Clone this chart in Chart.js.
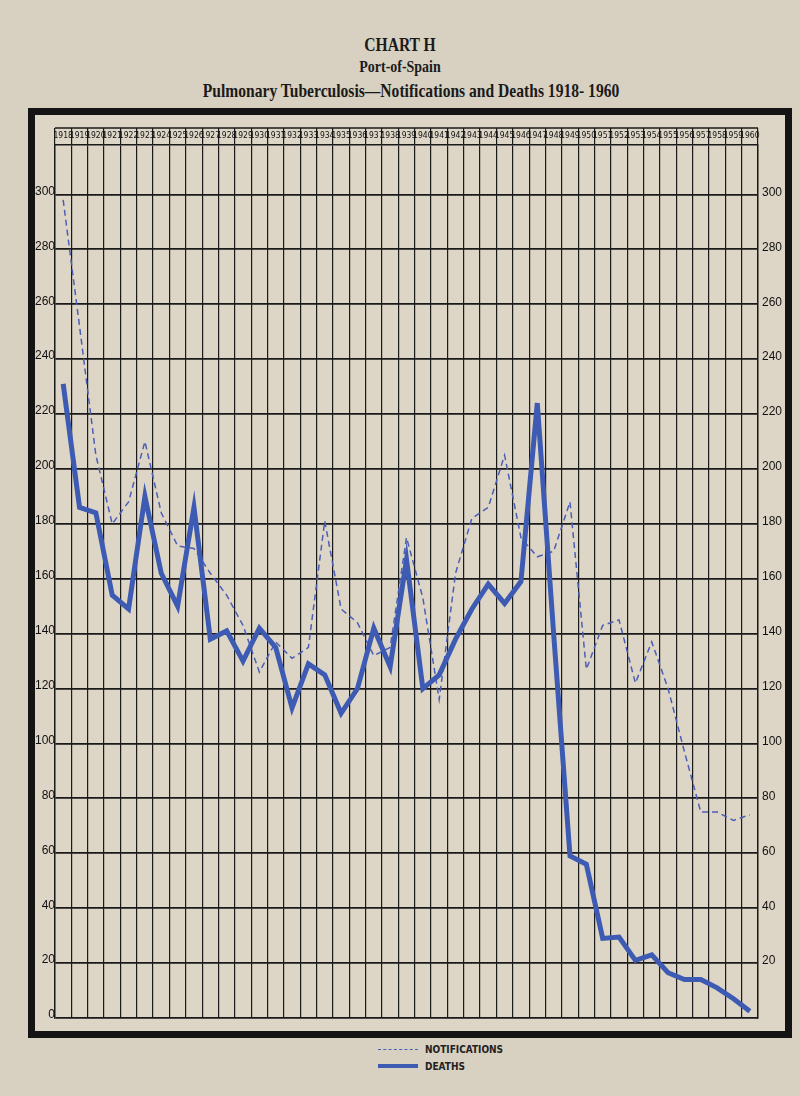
<!DOCTYPE html>
<html>
<head>
<meta charset="utf-8">
<title>Chart H - Port-of-Spain</title>
<script src="https://cdn.jsdelivr.net/npm/chart.js@4.4.1/dist/chart.umd.min.js"></script>
<style>
  html, body { margin: 0; padding: 0; }
  body {
    width: 800px; height: 1096px; position: relative; overflow: hidden;
    background: #d8d0c1; font-family: "Liberation Serif", serif;
  }
  .title {
    position: absolute; left: 0; width: 800px; text-align: center;
    font-weight: bold; color: #1a1a1a; transform: scaleX(0.82);
  }
  #frame {
    position: absolute; left: 28px; top: 108px; width: 764px; height: 930px;
    box-sizing: border-box; border: 7px solid #141414; background: #ddd5c6;
  }
  #chart { display: block; }
  .legend-row {
    position: absolute; left: 378px; height: 14px; display: flex; align-items: center;
    font-family: "Liberation Sans Narrow", "DejaVu Sans Condensed", sans-serif;
    font-weight: bold; font-size: 10px; color: #222;
  }
  .sample { width: 40px; margin-right: 7px; }
</style>
</head>
<body>

<div class="title" style="top:34px; font-size:19px;">CHART H</div>
<div class="title" style="top:57px; font-size:17px;">Port-of-Spain</div>
<div class="title" style="top:80px; left:11px; font-size:19px;">Pulmonary Tuberculosis—Notifications and Deaths 1918- 1960</div>

<div id="frame">
  <canvas id="chart" width="750" height="916"></canvas>
</div>

<div id="legend"></div>

<script>
// years along the top of the sheet
const years = ["1918", "1919", "1920", "1921", "1922", "1923", "1924", "1925", "1926", "1927",
               "1928", "1929", "1930", "1931", "1932", "1933", "1934", "1935", "1936", "1937",
               "1938", "1939", "1940", "1941", "1942", "1943", "1944", "1945", "1946", "1947",
               "1948", "1949", "1950", "1951", "1952", "1953", "1954", "1955", "1956", "1957",
               "1958", "1959", "1960"];

// values (per year)
const notifications = [298, 252, 205, 180, 188, 210, 184, 172, 171, 162,
                       154, 143, 126, 137, 131, 135, 181, 149, 144, 132,
                       135, 175, 153, 116, 162, 182, 186, 205, 175, 168,
                       170, 188, 127, 143, 145, 122, 137, 120, 97, 75,
                       75, 72, 74];

const deaths = [231, 186, 184, 154, 149, 190, 162, 150, 186, 138,
                141, 130, 142, 135, 113, 129, 125, 111, 120, 142,
                128, 167, 120, 125, 138, 149, 158, 151, 159, 224,
                140, 59, 56, 29, 29.5, 21, 23, 16.5, 14, 14,
                11, 7, 2.5];

const yTicks = [0, 20, 40, 60, 80, 100, 120, 140, 160, 180, 200, 220, 240, 260, 280, 300];
const seriesNames = ["NOTIFICATIONS", "DEATHS"];

const notifColor = "#4b5fb6";
const deathsColor = "#3d5bb2";
const gridColor = "#1a1a1a";
const HEADER_H = 17;

// top line of the year header box
const headerBox = {
    id: "headerBox",
    afterDraw(chart) {
        const { ctx, chartArea } = chart;
        const y = chartArea.top - HEADER_H;
        ctx.save();
        ctx.strokeStyle = gridColor;
        ctx.lineWidth = 1.4;
        ctx.beginPath();
        ctx.moveTo(chartArea.left, y);
        ctx.lineTo(chartArea.right, y);
        ctx.stroke();
        ctx.restore();
    }
};

function useFixedTicks(scale) {
    scale.ticks = yTicks.map(v => ({ value: v }));
}

const yFont = { family: "'Liberation Sans', sans-serif", size: 12 };

new Chart(document.getElementById("chart"), {
    type: "line",
    data: {
        labels: years,
        datasets: [
            {
                label: seriesNames[1],
                data: deaths,
                borderColor: deathsColor,
                borderWidth: 5,
                pointRadius: 0,
                tension: 0,
                yAxisID: "y"
            },
            {
                label: seriesNames[0],
                data: notifications,
                borderColor: notifColor,
                borderWidth: 1.5,
                borderDash: [6, 4],
                pointRadius: 0,
                tension: 0,
                yAxisID: "y"
            }
        ]
    },
    options: {
        responsive: false,
        animation: false,
        layout: { padding: { top: 13, bottom: 13, left: 0, right: 0 } },
        plugins: { legend: { display: false }, tooltip: { enabled: false } },
        scales: {
            x: {
                position: "top",
                offset: true,
                grid: { offset: true, color: gridColor, lineWidth: 1.2, tickLength: HEADER_H, drawTicks: true },
                border: { display: true, color: gridColor, width: 1.4 },
                ticks: {
                    autoSkip: false, maxRotation: 0, minRotation: 0, padding: -13,
                    color: "#111", font: { family: "'DejaVu Sans Condensed', sans-serif", size: 8.5 }
                },
                afterFit(scale) { scale.height = HEADER_H; }
            },
            y: {
                position: "left",
                min: 0, max: 318,
                afterBuildTicks: useFixedTicks,
                grid: { color: gridColor, lineWidth: 1.8, drawTicks: false },
                border: { display: true, color: gridColor, width: 1.4 },
                ticks: { padding: 0, labelOffset: -3, color: "#111", font: yFont },
                afterFit(scale) { scale.width = 20; }
            },
            y2: {
                position: "right",
                min: 0, max: 318,
                afterBuildTicks: useFixedTicks,
                grid: { display: false, drawTicks: false },
                border: { display: true, color: gridColor, width: 1.4 },
                ticks: {
                    padding: 4, labelOffset: -2, color: "#111", font: yFont,
                    callback: v => (v === 0 ? "" : v)
                },
                afterFit(scale) { scale.width = 27; }
            }
        }
    },
    plugins: [headerBox]
});

// legend below the frame
const legend = document.getElementById("legend");
legend.innerHTML = `
  <div class="legend-row" style="top:1042px;">
    <span class="sample" style="border-top:1.5px dashed ${notifColor};"></span>${seriesNames[0]}
  </div>
  <div class="legend-row" style="top:1059px;">
    <span class="sample" style="border-top:4px solid ${deathsColor};"></span>${seriesNames[1]}
  </div>`;
</script>
</body>
</html>
